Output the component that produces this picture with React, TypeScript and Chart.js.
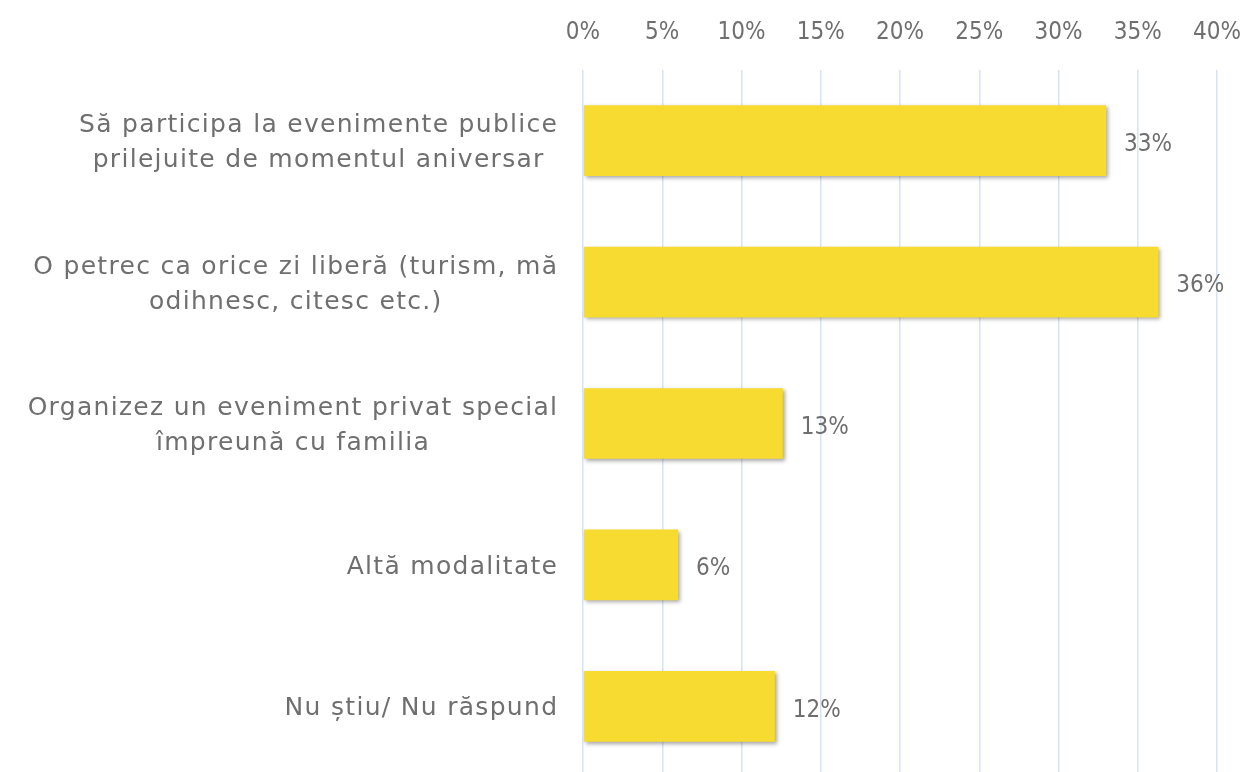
import React, { useEffect, useRef } from "react";
import { Chart, registerables } from "chart.js";

Chart.register(...registerables);

const categories: string[][] = [
  ["Să participa la evenimente publice", "prilejuite de momentul aniversar"],
  ["O petrec ca orice zi liberă (turism, mă", "odihnesc, citesc etc.)"],
  ["Organizez un eveniment privat special", "împreună cu familia"],
  ["Altă modalitate"],
  ["Nu știu/ Nu răspund"],
];
const values: number[] = [33.0, 36.3, 12.6, 6.0, 12.1];
const valueLabels: string[] = ["33%", "36%", "13%", "6%", "12%"];
const xTicks: number[] = [0, 5, 10, 15, 20, 25, 30, 35, 40];

const LABEL_FONT = "25px 'DejaVu Sans', sans-serif";
const NUM_FAMILY = "'DejaVu Sans Condensed', 'DejaVu Sans', sans-serif";
const TEXT_COLOR = "#6f6f6f";

const customDraw = {
  id: "customDraw",
  beforeDatasetsDraw(chart: any) {
    const ctx = chart.ctx;
    ctx.save();
    ctx.shadowColor = "rgba(0,0,0,0.35)";
    ctx.shadowBlur = 4;
    ctx.shadowOffsetX = 2;
    ctx.shadowOffsetY = 2;
  },
  afterDatasetsDraw(chart: any) {
    const ctx = chart.ctx;
    ctx.restore();
    // value labels
    ctx.save();
    const meta = chart.getDatasetMeta(0);
    ctx.font = `24px ${NUM_FAMILY}`;
    ctx.fillStyle = TEXT_COLOR;
    ctx.textAlign = "left";
    ctx.textBaseline = "middle";
    meta.data.forEach((bar: any, i: number) => {
      ctx.fillText(valueLabels[i], bar.x + 18, bar.y + 4);
    });
    ctx.restore();
    // category labels: block right-aligned, lines centred within block
    ctx.save();
    const yScale = chart.scales.y;
    const rightEdge = chart.chartArea.left - 26;
    const spacing = 1.3;
    ctx.font = LABEL_FONT;
    (ctx as any).letterSpacing = `${spacing}px`;
    ctx.fillStyle = TEXT_COLOR;
    ctx.textAlign = "center";
    ctx.textBaseline = "alphabetic";
    const lineStep = 35;
    categories.forEach((lines, i) => {
      const yc = yScale.getPixelForTick(i);
      const widths = lines.map((l) => ctx.measureText(l).width - spacing);
      const blockW = Math.max(...widths);
      const cx = rightEdge - blockW / 2;
      const n = lines.length;
      lines.forEach((line, j) => {
        const baseline = yc + (j - (n - 1) / 2) * lineStep + 9;
        ctx.fillText(line, cx + spacing / 2, baseline);
      });
    });
    ctx.restore();
  },
};

export default function App() {
  const ref = useRef<HTMLCanvasElement | null>(null);
  useEffect(() => {
    if (!ref.current) return;
    const chart = new Chart(ref.current, {
      type: "bar",
      data: {
        labels: categories.map((c) => c.join(" ")),
        datasets: [
          {
            data: values,
            backgroundColor: "#F8DB31",
            borderWidth: 0,
            barPercentage: 0.5,
            categoryPercentage: 1,
          },
        ],
      },
      options: {
        indexAxis: "y",
        animation: false,
        responsive: false,
        maintainAspectRatio: false,
        layout: { padding: { top: 18, right: 29, bottom: 13, left: 0 } },
        plugins: { legend: { display: false }, tooltip: { enabled: false } },
        scales: {
          x: {
            position: "top",
            min: 0,
            max: 40,
            afterBuildTicks(scale: any) {
              scale.ticks = xTicks.map((v) => ({ value: v }));
            },
            afterFit(scale: any) {
              scale.paddingLeft = 0;
              scale.paddingRight = 0;
              scale.height = 52;
            },
            ticks: {
              callback: (v: any) => `${v}%`,
              color: TEXT_COLOR,
              font: { family: NUM_FAMILY, size: 24 },
              padding: 23,
              maxRotation: 0,
              autoSkip: false,
            },
            grid: { color: "#D8E3F3", lineWidth: 1.5, drawTicks: false },
            border: { display: false },
          },
          y: {
            afterFit(scale: any) {
              scale.width = 583;
              scale.paddingTop = 0;
              scale.paddingBottom = 0;
            },
            ticks: { display: false },
            grid: { display: false, drawTicks: false },
            border: { display: false },
          },
        },
      },
      plugins: [customDraw],
    });
    return () => chart.destroy();
  }, []);
  return (
    <div style={{ position: "fixed", left: 0, top: 0, width: 1246, height: 772, overflow: "hidden", background: "#fff" }}>
      <canvas ref={ref} width={1246} height={790} style={{ display: "block" }} />
    </div>
  );
}
